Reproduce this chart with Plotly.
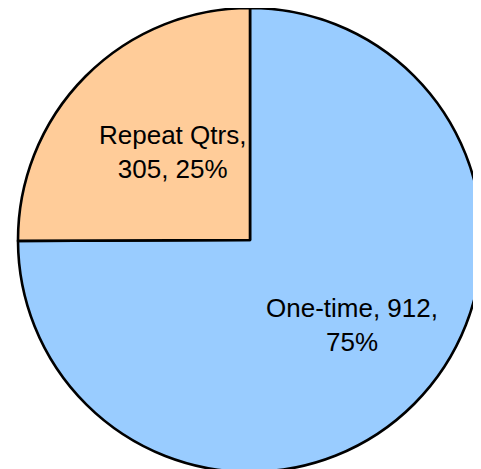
import math
import plotly.graph_objects as go

labels = ["One-time", "Repeat Qtrs"]
values = [912, 305]
colors = ["#99CCFF", "#FFCC99"]
# label line breaks (text before/after the break)
label_lines = [
    ("{label}, {value},", "{pct}%"),
    ("{label},", "{value}, {pct}%"),
]

W, H = 481, 469
CX, CY, R = 242, 232, 232  # pie centre and radius in figure pixels
label_frac = [0.572, 0.503]   # radial position of each label
label_dang = [-5.2, 3.7]      # angular nudge of each label (degrees)

total = sum(values)
pcts = [round(v / total * 100) for v in values]

fig = go.Figure(
    go.Pie(
        labels=labels,
        values=values,
        textinfo="none",
        sort=False,
        direction="clockwise",
        rotation=0,
        marker=dict(colors=colors, line=dict(color="black", width=2.6)),
        hoverinfo="label+value+percent",
        showlegend=False,
        domain=dict(x=[(CX - R) / W, (CX + R) / W], y=[(H - CY - R) / H, 1]),
    )
)

annotations = []
cum = 0.0
for i, (lab, val) in enumerate(zip(labels, values)):
    mid = (cum + val / 2) / total * 2 * math.pi + math.radians(label_dang[i])
    cum += val
    px = CX + label_frac[i] * R * math.sin(mid)
    py = CY - label_frac[i] * R * math.cos(mid)
    l1, l2 = label_lines[i]
    txt = (l1 + "<br>" + l2).format(label=lab, value=val, pct=pcts[i])
    annotations.append(
        dict(
            x=px / W, y=1 - py / H, xref="paper", yref="paper",
            text=txt, showarrow=False, xanchor="center", yanchor="middle",
            align="center",
            font=dict(family="Liberation Sans, Arial, sans-serif", size=26, color="black"),
        )
    )

fig.update_layout(
    width=W,
    height=H,
    margin=dict(l=0, r=0, t=0, b=0),
    paper_bgcolor="white",
    showlegend=False,
    annotations=annotations,
)

fig.write_html("out.html")
